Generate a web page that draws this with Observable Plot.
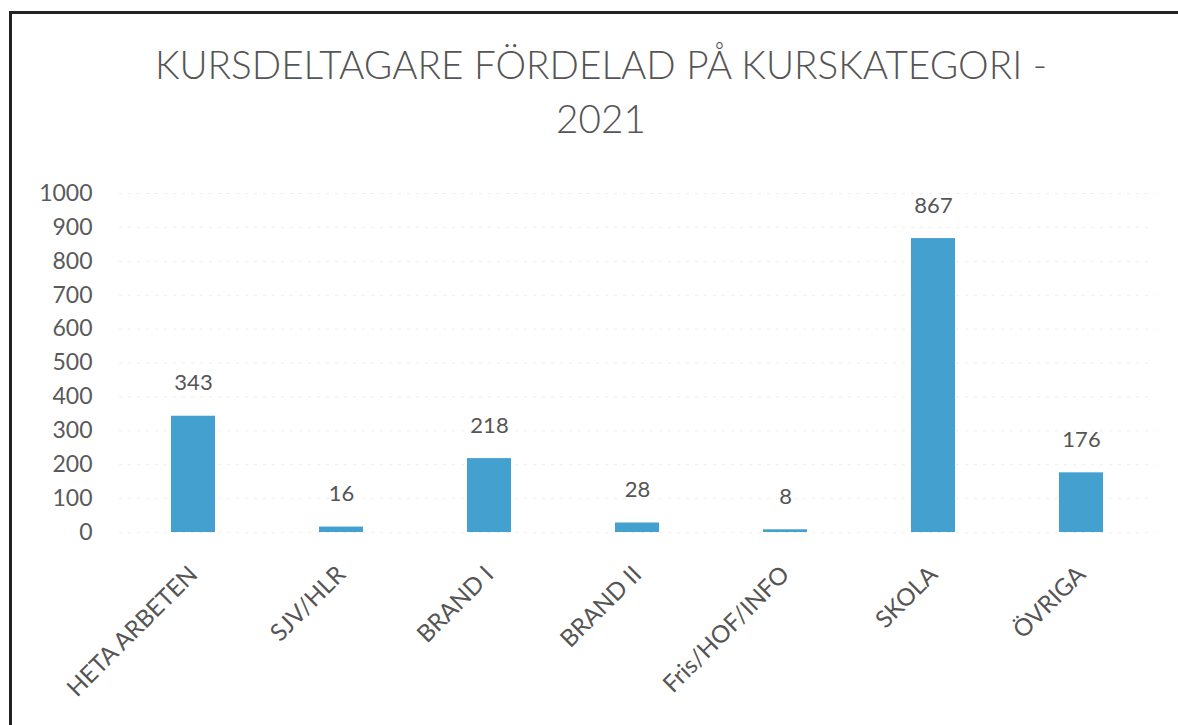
<!DOCTYPE html>
<html>
<head>
<meta charset="utf-8">
<script src="https://cdn.jsdelivr.net/npm/d3@7"></script>
<script src="https://cdn.jsdelivr.net/npm/@observablehq/plot@0.6"></script>
<style>
  html, body { margin: 0; padding: 0; background: #fff; }
  #page { position: relative; width: 1178px; height: 725px; overflow: hidden; font-family: Lato, "Open Sans", sans-serif; }
  #frame { position: absolute; left: 9px; top: 11px; width: 1200px; height: 760px; border: 3px solid #222; box-sizing: border-box; }
  #title { position: absolute; left: 0; width: 1202px; top: 37px; text-align: center; color: #555; font-size: 38.7px; line-height: 54px; font-weight: 300; }
  #chart { position: absolute; left: 0; top: 170px; }
</style>
</head>
<body>
<div id="page">
  <div id="frame"></div>
  <div id="title">KURSDELTAGARE FÖRDELAD PÅ KURSKATEGORI -<br>2021</div>
  <div id="chart"></div>
</div>
<script>
const categories = ["HETA ARBETEN", "SJV/HLR", "BRAND I", "BRAND II", "Fris/HOF/INFO", "SKOLA", "ÖVRIGA"];
const values = [343, 16, 218, 28, 8, 867, 176];
const yTicks = [0, 100, 200, 300, 400, 500, 600, 700, 800, 900, 1000];

const data = categories.map((c, i) => ({category: c, value: values[i]}));

const plot = Plot.plot({
  width: 1178,
  height: 555,
  marginTop: 23,
  marginBottom: 193,
  marginLeft: 119,
  marginRight: 23,
  style: {fontFamily: "Lato, 'Open Sans', sans-serif", color: "#555", background: "transparent"},
  x: {domain: categories, paddingInner: 0.7, paddingOuter: 0.35, label: null},
  y: {domain: [0, 1000], label: null},
  marks: [
    Plot.gridY(yTicks, {stroke: "#ededed", strokeOpacity: 1, strokeDasharray: "3,6"}),
    Plot.barY(data, {x: "category", y: "value", fill: "#44a0cf"}),
    Plot.text(data, {x: "category", y: "value", text: d => String(d.value), dy: -33, fontSize: 22, fill: "#555"}),
    Plot.axisY(yTicks, {tickSize: 0, tickPadding: 27, fontSize: 23, fill: "#5a5a5a", label: null, tickFormat: d => String(d)}),
    Plot.axisX({tickSize: 0, tickPadding: 38, tickRotate: -45, fontSize: 24, fill: "#555", label: null})
  ]
});
document.getElementById("chart").appendChild(plot);
</script>
</body>
</html>
